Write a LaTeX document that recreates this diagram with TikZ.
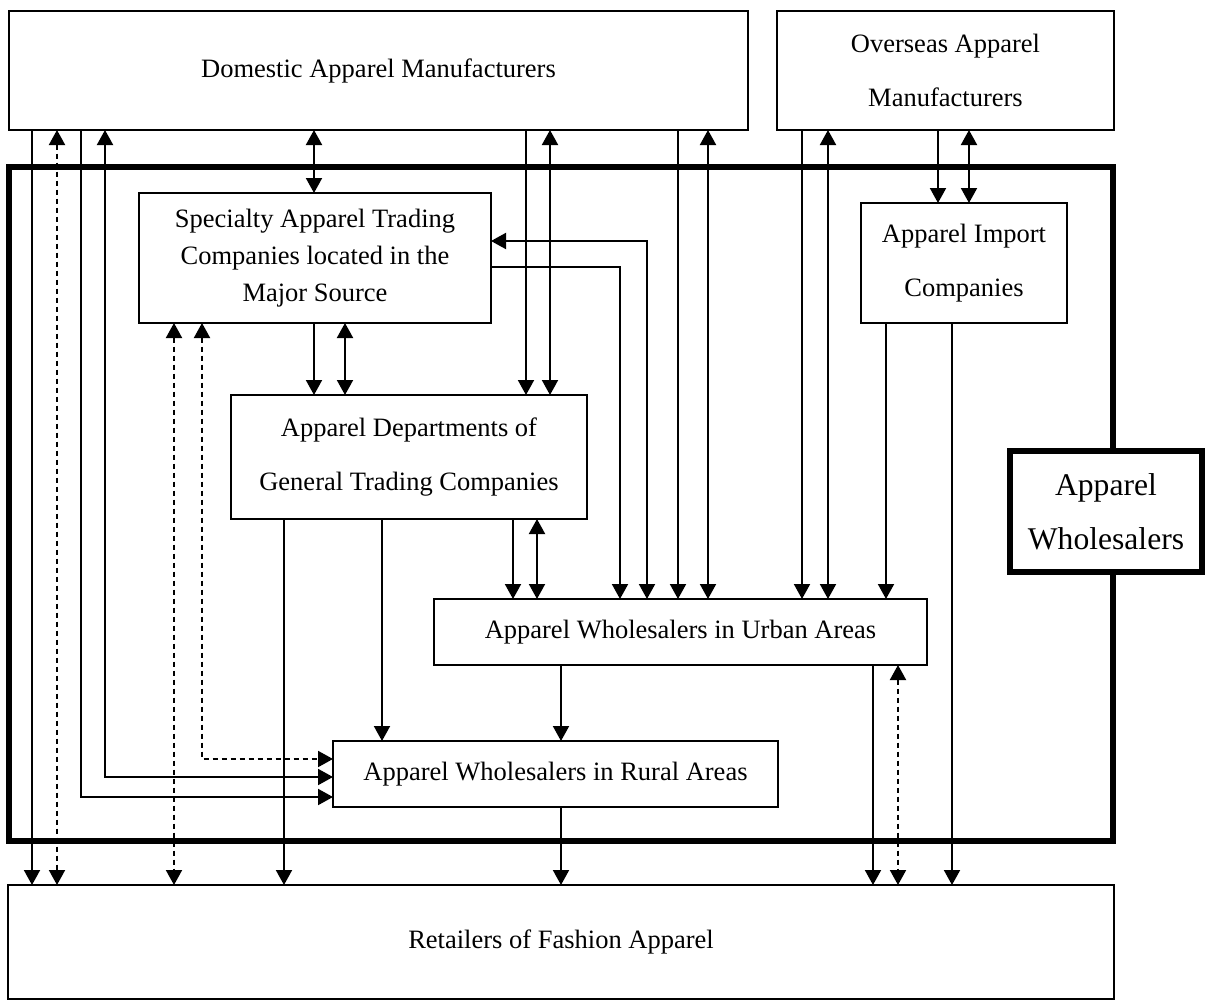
\documentclass[tikz,border=0pt]{standalone}
\usepackage{fontspec}
\setmainfont{Liberation Serif}
\usetikzlibrary{arrows.meta}

\begin{document}
\begin{tikzpicture}[x=0.5pt, y=-0.5pt, >={Triangle[length=7.5pt,width=8pt]}]
    % Styles
    \tikzstyle{block} = [rectangle, draw, line width=1pt, inner sep=0pt, outer sep=0pt, align=center, fill=white, font=\fontsize{13.25}{27}\selectfont]
    \tikzstyle{tight} = [font=\fontsize{13.25}{18.5}\selectfont]
    \tikzstyle{frame} = [rectangle, draw, line width=2.7pt, inner sep=0pt, outer sep=0pt]
    \tikzstyle{line} = [draw, line width=1pt, ->]
    \tikzstyle{biline} = [draw, line width=1pt, <->]
    \tikzstyle{dline} = [biline, dash pattern=on 2.5pt off 2pt]

    \useasboundingbox (0,0) rectangle (1207,1001);

    % Nodes
    \node [frame, minimum width=552pt, minimum height=337pt] (whole) at (561,504) {};
    \node [block, minimum width=369.5pt, minimum height=59.5pt] (dom) at (378.5,70.5) {Domestic Apparel Manufacturers};
    \node [block, minimum width=168.5pt, minimum height=59.5pt] (ovs) at (945.5,70.5) {Overseas Apparel\\Manufacturers};
    \node [block, tight, minimum width=176pt, minimum height=65pt] (spec) at (315,258) {Specialty Apparel Trading\\Companies located in the\\Major Source};
    \node [block, minimum width=103pt, minimum height=60pt] (imp) at (964,263) {Apparel Import\\Companies};
    \node [block, minimum width=178pt, minimum height=62pt] (dept) at (409,457) {Apparel Departments of\\General Trading Companies};
    \node [block, line width=2.7pt, font=\fontsize{15.8}{27}\selectfont, minimum width=96pt, minimum height=60.5pt] (label) at (1106,511.5) {Apparel\\Wholesalers};
    \node [block, minimum width=246.5pt, minimum height=33pt] (urban) at (680.5,632) {Apparel Wholesalers in Urban Areas};
    \node [block, minimum width=222.5pt, minimum height=33pt] (rural) at (555.5,774) {Apparel Wholesalers in Rural Areas};
    \node [block, minimum width=553pt, minimum height=57pt] (ret) at (561,942) {Retailers of Fashion Apparel};

    % Edges from domestic manufacturers
    \path [line] (dom.south -| 32,0) -- (ret.north -| 32,0);
    \path [dline] (dom.south -| 57,0) -- (ret.north -| 57,0);
    \path [line] (dom.south -| 81,0) |- (rural.west |- 0,797);
    \path [biline] (dom.south -| 105,0) |- (rural.west |- 0,777);
    \path [biline] (dom.south -| 314,0) -- (spec.north -| 314,0);
    \path [line] (dom.south -| 526,0) -- (dept.north -| 526,0);
    \path [biline] (dom.south -| 550,0) -- (dept.north -| 550,0);
    \path [line] (dom.south -| 678,0) -- (urban.north -| 678,0);
    \path [biline] (dom.south -| 708,0) -- (urban.north -| 708,0);

    % Edges from overseas manufacturers
    \path [line] (ovs.south -| 802,0) -- (urban.north -| 802,0);
    \path [biline] (ovs.south -| 828,0) -- (urban.north -| 828,0);
    \path [line] (ovs.south -| 938,0) -- (imp.north -| 938,0);
    \path [biline] (ovs.south -| 969,0) -- (imp.north -| 969,0);

    % Edges from specialty trading companies
    \path [dline] (spec.south -| 174,0) -- (ret.north -| 174,0);
    \path [dline] (spec.south -| 202,0) |- (rural.west |- 0,759);
    \path [line] (spec.south -| 314,0) -- (dept.north -| 314,0);
    \path [biline] (spec.south -| 345,0) -- (dept.north -| 345,0);
    \path [line] (spec.east |- 0,267) -| (urban.north -| 620,0);
    \path [biline] (spec.east |- 0,241) -| (urban.north -| 647,0);

    % Edges from import companies
    \path [line] (imp.south -| 886,0) -- (urban.north -| 886,0);
    \path [line] (imp.south -| 952,0) -- (ret.north -| 952,0);

    % Edges from general trading companies
    \path [line] (dept.south -| 284,0) -- (ret.north -| 284,0);
    \path [line] (dept.south -| 382,0) -- (rural.north -| 382,0);
    \path [line] (dept.south -| 513,0) -- (urban.north -| 513,0);
    \path [biline] (dept.south -| 537,0) -- (urban.north -| 537,0);

    % Edges from wholesalers
    \path [line] (urban.south -| 561,0) -- (rural.north -| 561,0);
    \path [line] (urban.south -| 873,0) -- (ret.north -| 873,0);
    \path [dline] (urban.south -| 898,0) -- (ret.north -| 898,0);
    \path [line] (rural.south -| 561,0) -- (ret.north -| 561,0);

\end{tikzpicture}
\end{document}
